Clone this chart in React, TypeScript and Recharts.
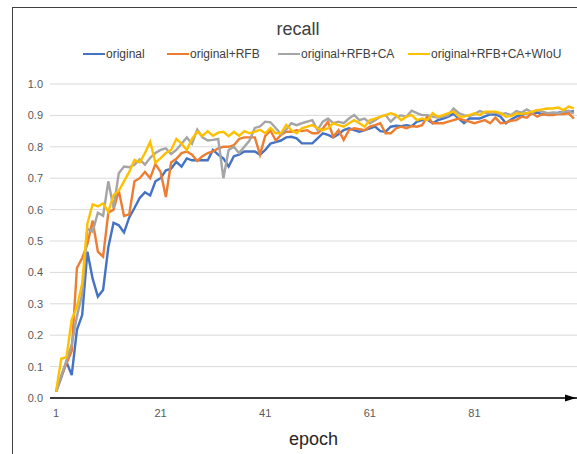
import React from 'react';
import { LineChart, Line, XAxis, YAxis, CartesianGrid, Label } from 'recharts';

const epochs: number[] = Array.from({ length: 100 }, (_, i) => i + 1);

const original: number[] = [
  0.02, 0.065, 0.115, 0.073, 0.217, 0.264, 0.466, 0.38, 0.323, 0.344,
  0.48, 0.558, 0.55, 0.527, 0.575, 0.605, 0.637, 0.655, 0.645, 0.69,
  0.70, 0.725, 0.73, 0.752, 0.737, 0.763, 0.757, 0.757, 0.757, 0.757,
  0.79, 0.775, 0.763, 0.737, 0.77, 0.775, 0.785, 0.785, 0.785, 0.775,
  0.79, 0.81, 0.815, 0.82, 0.83, 0.832, 0.827, 0.811, 0.811, 0.811,
  0.827, 0.843, 0.838, 0.83, 0.84, 0.853, 0.859, 0.853, 0.848, 0.853,
  0.859, 0.864, 0.85, 0.848, 0.864, 0.867, 0.866, 0.869, 0.866, 0.88,
  0.885, 0.887, 0.875, 0.885, 0.89, 0.896, 0.905, 0.89, 0.875, 0.89,
  0.89, 0.89, 0.897, 0.903, 0.903, 0.896, 0.875, 0.887, 0.896, 0.901,
  0.907, 0.907, 0.909, 0.903, 0.907, 0.907, 0.909, 0.912, 0.912, 0.913,
];

const originalRFB: number[] = [
  0.02, 0.07, 0.11, 0.15, 0.414, 0.446, 0.49, 0.565, 0.466, 0.45,
  0.59, 0.60, 0.66, 0.58, 0.585, 0.69, 0.70, 0.72, 0.70, 0.745,
  0.72, 0.64, 0.75, 0.762, 0.78, 0.785, 0.775, 0.755, 0.77, 0.78,
  0.785, 0.795, 0.80, 0.80, 0.805, 0.825, 0.83, 0.83, 0.83, 0.775,
  0.835, 0.852, 0.82, 0.838, 0.848, 0.848, 0.853, 0.85, 0.853, 0.843,
  0.843, 0.858, 0.88, 0.832, 0.853, 0.822, 0.853, 0.859, 0.856, 0.853,
  0.864, 0.869, 0.875, 0.843, 0.843, 0.859, 0.864, 0.859, 0.866, 0.864,
  0.869, 0.898, 0.875, 0.875, 0.875, 0.88, 0.885, 0.89, 0.885, 0.88,
  0.875, 0.88, 0.885, 0.875, 0.893, 0.875, 0.877, 0.883, 0.885, 0.896,
  0.893, 0.907, 0.896, 0.904, 0.901, 0.901, 0.904, 0.904, 0.907, 0.89,
];

const originalRFBCA: number[] = [
  0.02, 0.07, 0.12, 0.17, 0.26, 0.33, 0.54, 0.53, 0.59, 0.58,
  0.69, 0.605, 0.716, 0.737, 0.735, 0.743, 0.76, 0.743, 0.765, 0.78,
  0.79, 0.795, 0.777, 0.79, 0.81, 0.83, 0.81, 0.855, 0.83, 0.82,
  0.822, 0.825, 0.70, 0.79, 0.80, 0.78, 0.80, 0.82, 0.86, 0.865,
  0.88, 0.878, 0.86, 0.84, 0.855, 0.875, 0.869, 0.875, 0.88, 0.885,
  0.853, 0.88, 0.89, 0.875, 0.88, 0.875, 0.89, 0.901, 0.885, 0.89,
  0.875, 0.885, 0.896, 0.901, 0.88, 0.896, 0.90, 0.896, 0.915, 0.907,
  0.901, 0.901, 0.896, 0.893, 0.896, 0.901, 0.922, 0.907, 0.901, 0.898,
  0.904, 0.914, 0.909, 0.907, 0.909, 0.904, 0.907, 0.901, 0.914, 0.909,
  0.919, 0.909, 0.917, 0.912, 0.907, 0.909, 0.907, 0.912, 0.915, 0.905,
];

const originalRFBCAWIoU: number[] = [
  0.02, 0.125, 0.13, 0.25, 0.29, 0.365, 0.556, 0.617, 0.61, 0.62,
  0.593, 0.646, 0.66, 0.69, 0.72, 0.758, 0.75, 0.78, 0.816, 0.75,
  0.764, 0.78, 0.79, 0.825, 0.81, 0.79, 0.825, 0.848, 0.835, 0.85,
  0.835, 0.845, 0.848, 0.834, 0.848, 0.835, 0.85, 0.843, 0.848, 0.854,
  0.843, 0.86, 0.843, 0.843, 0.87, 0.853, 0.843, 0.859, 0.864, 0.869,
  0.859, 0.853, 0.859, 0.875, 0.869, 0.864, 0.875, 0.885, 0.875, 0.864,
  0.885, 0.89, 0.896, 0.901, 0.907, 0.901, 0.885, 0.896, 0.901, 0.885,
  0.89, 0.885, 0.907, 0.896, 0.901, 0.907, 0.912, 0.896, 0.896, 0.901,
  0.907, 0.901, 0.912, 0.912, 0.912, 0.907, 0.896, 0.898, 0.907, 0.905,
  0.907, 0.912, 0.917, 0.919, 0.922, 0.922, 0.925, 0.917, 0.928, 0.922,
];

const xTicks: number[] = [1, 21, 41, 61, 81];
const yTicks: number[] = [0, 0.1, 0.2, 0.3, 0.4, 0.5, 0.6, 0.7, 0.8, 0.9, 1.0];

const seriesNames: string[] = ['original', 'original+RFB', 'original+RFB+CA', 'original+RFB+CA+WIoU'];
const seriesKeys: string[] = ['s0', 's1', 's2', 's3'];
const seriesColors: string[] = ['#4472C4', '#ED7D31', '#A5A5A5', '#FFC000'];
const legendLeft: number[] = [83, 167, 278, 408];

const data = epochs.map((e, i) => ({
  epoch: e,
  s0: original[i],
  s1: originalRFB[i],
  s2: originalRFBCA[i],
  s3: originalRFBCAWIoU[i],
}));

const FONT = "'Liberation Sans', Arial, sans-serif";

export default function App() {
  return (
    <div
      style={{
        position: 'absolute',
        left: 0,
        top: 0,
        width: 577,
        height: 454,
        background: '#ffffff',
        overflow: 'hidden',
        fontFamily: FONT,
      }}
    >
      <LineChart
        width={577}
        height={454}
        data={data}
        margin={{ top: 84, right: 0, bottom: 0, left: 0 }}
      >
        <CartesianGrid horizontal vertical={false} stroke="#d9d9d9" strokeWidth={1} />
        <XAxis
          dataKey="epoch"
          type="number"
          domain={[-0.15, 100.6]}
          ticks={xTicks}
          allowDataOverflow
          tickLine={false}
          tickSize={0}
          tickMargin={11}
          axisLine={{ stroke: '#000000', strokeWidth: 1.3 }}
          tick={{ fill: '#595959', fontSize: 11, fontFamily: FONT }}
          height={56}
        >
          <Label
            value="epoch"
            position="insideBottom"
            offset={9}
            style={{ fill: '#262626', fontSize: 18, fontFamily: FONT }}
          />
        </XAxis>
        <YAxis
          type="number"
          domain={[0, 1]}
          ticks={yTicks}
          tickFormatter={(v: number) => v.toFixed(1)}
          tickLine={false}
          axisLine={false}
          tickSize={0}
          tickMargin={7}
          width={50}
          tick={{ fill: '#595959', fontSize: 11, fontFamily: FONT }}
        />
        {seriesKeys.map((k, i) => (
          <Line
            key={k}
            type="linear"
            dataKey={k}
            name={seriesNames[i]}
            stroke={seriesColors[i]}
            strokeWidth={2.4}
            dot={false}
            isAnimationActive={false}
          />
        ))}
      </LineChart>

      {/* outer frame */}
      <div
        style={{
          position: 'absolute',
          left: 12,
          top: 7,
          width: 600,
          height: 500,
          borderLeft: '1.5px solid #404040',
          borderTop: '1.5px solid #404040',
          pointerEvents: 'none',
        }}
      />

      {/* axis arrowhead */}
      <svg
        style={{ position: 'absolute', left: 0, top: 0, pointerEvents: 'none' }}
        width={577}
        height={454}
      >
        <polygon points="565,394.5 576,398 565,401.5" fill="#000000" />
      </svg>

      {/* title */}
      <div
        style={{
          position: 'absolute',
          left: 0,
          width: 596,
          top: 18,
          textAlign: 'center',
          fontSize: 18,
          color: '#404040',
          lineHeight: '22px',
        }}
      >
        recall
      </div>

      {/* legend */}
      {seriesNames.map((name, i) => (
        <div
          key={name}
          style={{
            position: 'absolute',
            left: legendLeft[i],
            top: 46,
            height: 16,
            display: 'flex',
            alignItems: 'center',
            whiteSpace: 'nowrap',
          }}
        >
          <div style={{ width: 22, height: 2.5, background: seriesColors[i], marginRight: 1 }} />
          <span style={{ fontSize: 12, color: '#404040', lineHeight: '16px' }}>{name}</span>
        </div>
      ))}
    </div>
  );
}
